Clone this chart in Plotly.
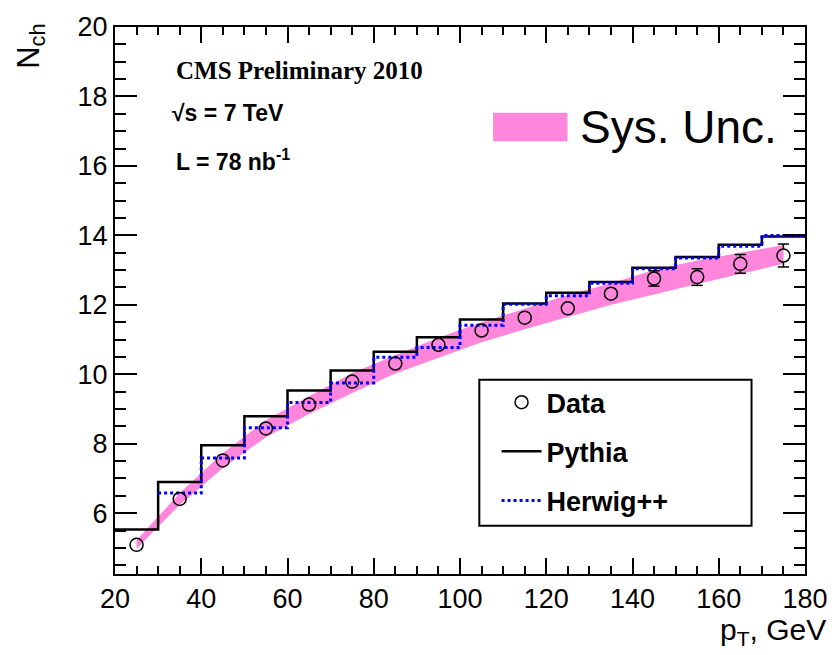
import plotly.graph_objects as go

# ---- data ----
pt_centers = [25, 35, 45, 55, 65, 75, 85, 95, 105, 115, 125, 135, 145, 155, 165, 175]
data_nch = [5.09, 6.41, 7.52, 8.44, 9.13, 9.79, 10.31, 10.85, 11.26, 11.63, 11.90, 12.32, 12.76, 12.80, 13.18, 13.42]
data_err = [0.05, 0.05, 0.05, 0.06, 0.06, 0.07, 0.07, 0.08, 0.08, 0.09, 0.10, 0.12, 0.22, 0.24, 0.27, 0.33]

sys_low = [4.98, 6.24, 7.30, 8.19, 8.86, 9.46, 10.02, 10.48, 10.92, 11.30, 11.65, 12.00, 12.30, 12.60, 12.90, 13.18]
sys_high = [5.22, 6.58, 7.73, 8.68, 9.37, 10.04, 10.55, 11.05, 11.50, 11.88, 12.28, 12.62, 13.00, 13.28, 13.50, 13.72]

pythia_edges = [20, 30, 40, 50, 60, 70, 80, 90, 100, 110, 120, 130, 140, 150, 160, 170, 180]
pythia_vals = [5.53, 6.90, 7.96, 8.79, 9.53, 10.11, 10.65, 11.07, 11.58, 12.04, 12.35, 12.66, 13.07, 13.38, 13.73, 13.97]

herwig_edges = [30, 40, 50, 60, 70, 80, 90, 100, 110, 120, 130, 140, 150, 160, 170, 180]
herwig_vals = [6.58, 7.59, 8.46, 9.19, 9.75, 10.49, 10.77, 11.41, 12.02, 12.26, 12.62, 13.04, 13.35, 13.69, 14.00]

x_ticks = [20, 40, 60, 80, 100, 120, 140, 160, 180]
y_ticks = [6, 8, 10, 12, 14, 16, 18, 20]

SANS = "Liberation Sans, Arial, sans-serif"
SERIF = "Liberation Serif, Times New Roman, serif"
PINK = "#FF86DA"
MARKER_R = 0.19  # marker radius in data units (error bars are not drawn inside the marker)

fig = go.Figure()

# systematic band
fig.add_trace(go.Scatter(
    x=pt_centers + pt_centers[::-1],
    y=sys_high + sys_low[::-1],
    fill="toself", fillcolor=PINK, mode="lines", line=dict(width=0, color=PINK),
    showlegend=False, hoverinfo="skip"))

# Pythia step
fig.add_trace(go.Scatter(
    x=pythia_edges, y=pythia_vals + [pythia_vals[-1]],
    mode="lines", line=dict(color="black", width=2.5, shape="hv"),
    name="<b>Pythia</b>", legendgroup="p", legendrank=2))

# Herwig step
fig.add_trace(go.Scatter(
    x=herwig_edges, y=herwig_vals + [herwig_vals[-1]],
    mode="lines", line=dict(color="#0000FF", width=3, shape="hv", dash="dot"),
    name="<b>Herwig++</b>", legendgroup="h", legendrank=3))

# error bars (ROOT style: only the part outside the marker)
ex, ey, cx, cy = [], [], [], []
for x, y, e in zip(pt_centers, data_nch, data_err):
    if e > MARKER_R:
        ex += [x, x, None, x, x, None]
        ey += [y + MARKER_R, y + e, None, y - MARKER_R, y - e, None]
        cx += [x, x]
        cy += [y + e, y - e]
fig.add_trace(go.Scatter(x=ex, y=ey, mode="lines", line=dict(color="black", width=1.5),
                         showlegend=False, hoverinfo="skip"))
fig.add_trace(go.Scatter(x=cx, y=cy, mode="markers",
                         marker=dict(symbol="line-ew", size=8, line=dict(color="black", width=1.5)),
                         showlegend=False, hoverinfo="skip"))

# Data
fig.add_trace(go.Scatter(
    x=pt_centers, y=data_nch, mode="markers",
    marker=dict(symbol="circle-open", size=13, color="black", line=dict(width=1.5, color="black")),
    name="<b>Data</b>", legendgroup="d", legendrank=1))

axis_common = dict(
    showgrid=False, zeroline=False, showline=True, linecolor="black", linewidth=2,
    mirror="ticks", ticks="inside", tickcolor="black", tickwidth=1.5,
    tickfont=dict(family=SANS, size=27, color="black"),
)

fig.update_xaxes(range=[20, 180], tickvals=x_ticks, ticklen=16,
                 minor=dict(ticks="inside", dtick=5, tick0=0, ticklen=8, tickcolor="black", tickwidth=1.5),
                 **axis_common)
fig.update_yaxes(range=[4.25, 20], tickvals=y_ticks, ticklen=22,
                 minor=dict(ticks="inside", dtick=0.5, tick0=0, ticklen=11, tickcolor="black", tickwidth=1.5),
                 **axis_common)

# legend box
fig.add_shape(type="rect", xref="paper", yref="paper", x0=0.528, x1=0.9225, y0=0.0883, y1=0.355,
              line=dict(color="black", width=2), fillcolor="white", layer="above")
# Sys. Unc. swatch
fig.add_shape(type="rect", xref="paper", yref="paper", x0=0.548, x1=0.6557, y0=0.791, y1=0.8432,
              line=dict(width=0), fillcolor=PINK)

annotations = [
    dict(text="Sys. Unc.", x=0.6714, y=0.817, xanchor="left", yanchor="middle",
         font=dict(family=SANS, size=46, color="black")),
    dict(text="<b>CMS Preliminary 2010</b>", x=0.086, y=0.921, xanchor="left", yanchor="middle",
         font=dict(family=SERIF, size=25, color="black")),
    dict(text="<b>√s = 7 TeV</b>", x=0.079, y=0.843, xanchor="left", yanchor="middle",
         font=dict(family=SANS, size=23, color="black")),
    dict(text="<b>L = 78 nb<sup>-1</sup></b>", x=0.086, y=0.756, xanchor="left", yanchor="middle",
         font=dict(family=SANS, size=23, color="black")),
    dict(text="N<sub>ch</sub>", x=-0.122, y=1.01, xanchor="center", yanchor="top", textangle=-90,
         font=dict(family=SANS, size=31, color="black")),
    dict(text="p<sub>T</sub>, GeV", x=1.033, y=-0.105, xanchor="right", yanchor="middle",
         font=dict(family=SANS, size=30, color="black")),
]
for a in annotations:
    a.update(xref="paper", yref="paper", showarrow=False)
fig.update_layout(annotations=annotations)

fig.update_layout(
    width=840, height=655,
    margin=dict(l=115, r=28, t=19, b=81),
    paper_bgcolor="white", plot_bgcolor="white",
    showlegend=True,
    legend=dict(x=0.553, y=0.358, xanchor="left", yanchor="top",
                bgcolor="rgba(0,0,0,0)", borderwidth=0,
                font=dict(family=SANS, size=27, color="black"),
                tracegroupgap=11, itemwidth=40),
)

fig.write_html("out.html")
